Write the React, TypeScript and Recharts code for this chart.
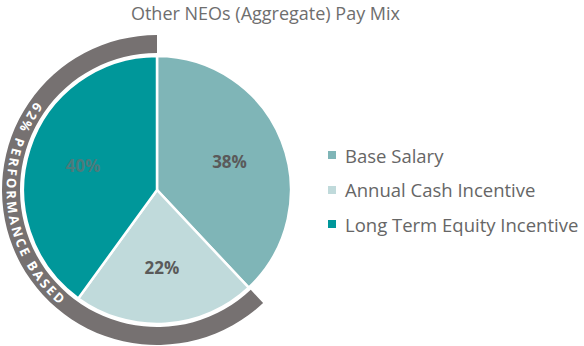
import { PieChart, Pie, Cell } from 'recharts'

const categories = ['Base Salary', 'Annual Cash Incentive', 'Long Term Equity Incentive']
const shares = [38, 22, 40]
const colors = ['#7fb5b7', '#c0dadb', '#00979a']
const labelColors = ['#5a5a5a', '#5a5a5a', '#4c7b7c']
// categories that count as performance based
const performanceIdx = [1, 2]

const title = 'Other NEOs (Aggregate) Pay Mix'
const bandText = 'PERFORMANCE BASED'

const RAD = Math.PI / 180
const FONT = '"Open Sans", sans-serif'

const data = categories.map((name, i) => ({ name, value: shares[i] }))
const perfShare = performanceIdx.reduce((s, i) => s + shares[i], 0)
const bandData = [
  { name: 'performance', value: perfShare },
  { name: 'fixed', value: 100 - perfShare },
]

function ShareLabel(props: any) {
  const { cx, cy, midAngle, index, value } = props
  const r = 78
  const x = cx + r * Math.cos(midAngle * RAD)
  const y = cy - r * Math.sin(midAngle * RAD)
  return (
    <text
      x={x}
      y={y}
      textAnchor="middle"
      dominantBaseline="central"
      fill={labelColors[index]}
      fontFamily={FONT}
      fontWeight={700}
      fontSize={17}
    >
      {value}%
    </text>
  )
}

function BandLabel(props: any) {
  const { cx, cy, startAngle, endAngle, index } = props
  if (index !== 0) return null
  const r = 150.5
  const x1 = cx + r * Math.cos(startAngle * RAD)
  const y1 = cy - r * Math.sin(startAngle * RAD)
  const x2 = cx + r * Math.cos(endAngle * RAD)
  const y2 = cy - r * Math.sin(endAngle * RAD)
  const large = endAngle - startAngle > 180 ? 1 : 0
  const d = `M ${x1} ${y1} A ${r} ${r} 0 ${large} 0 ${x2} ${y2}`
  // text starts a bit past the top of the band
  const offset = r * 54 * RAD
  return (
    <g>
      <path id="bandPath" d={d} fill="none" stroke="none" />
      <text fill="#ffffff" fontFamily={FONT} fontWeight={700} fontSize={13} letterSpacing={2.6}>
        <textPath href="#bandPath" startOffset={offset}>
          {`${perfShare}% ${bandText}`}
        </textPath>
      </text>
    </g>
  )
}

export default function App() {
  return (
    <div style={{ position: 'absolute', left: 0, top: 0, width: 584, height: 346, background: '#fff' }}>
      <div
        style={{
          position: 'absolute',
          left: 0,
          width: 531,
          top: 0,
          textAlign: 'center',
          fontFamily: FONT,
          fontSize: 18,
          lineHeight: '26px',
          color: '#6e6e6e',
        }}
      >
        {title}
      </div>
      <PieChart
        width={584}
        height={346}
        margin={{ top: 0, right: 0, bottom: 0, left: 0 }}
        style={{ position: 'absolute', left: 0, top: 0 }}
      >
        <Pie
          data={bandData}
          dataKey="value"
          cx={157}
          cy={190}
          innerRadius={137}
          outerRadius={155}
          startAngle={90}
          endAngle={450}
          stroke="none"
          label={BandLabel}
          labelLine={false}
          isAnimationActive={false}
        >
          <Cell fill="#767171" />
          <Cell fill="none" />
        </Pie>
        <Pie
          data={data}
          dataKey="value"
          cx={157}
          cy={190}
          innerRadius={0}
          outerRadius={134}
          startAngle={90}
          endAngle={-270}
          stroke="#ffffff"
          strokeWidth={2.5}
          label={ShareLabel}
          labelLine={false}
          isAnimationActive={false}
        >
          {data.map((d, i) => (
            <Cell key={d.name} fill={colors[i]} />
          ))}
        </Pie>
      </PieChart>
      {categories.map((name, i) => (
        <div
          key={name}
          style={{
            position: 'absolute',
            left: 328,
            top: 155 + i * 34.5 - 13,
            height: 26,
            display: 'flex',
            alignItems: 'center',
            fontFamily: FONT,
            fontSize: 18.5,
            color: '#666666',
            whiteSpace: 'nowrap',
          }}
        >
          <span style={{ width: 8, height: 8, background: colors[i], marginRight: 9 }} />
          {name}
        </div>
      ))}
    </div>
  )
}
